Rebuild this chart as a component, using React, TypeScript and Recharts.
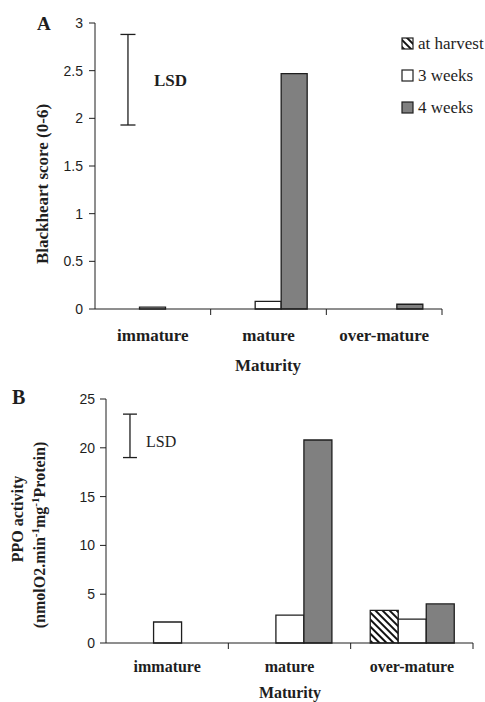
import React from "react";
import {
  BarChart,
  Bar,
  XAxis,
  YAxis,
  ReferenceLine,
  ReferenceDot,
} from "recharts";

// ---- data ----
const CATEGORIES = ["immature", "mature", "over-mature"];
const SLOTS = [0.5, 1.5, 2.5]; // centre of each category on the position axis (0..3)
const POS_TICKS = [0.5, 1, 1.5, 2, 2.5, 3]; // labels at centres, marks at boundaries

// Panel A: Blackheart score (0-6)
const A_HARVEST: (number | null)[] = [null, null, null];
const A_WEEK3: (number | null)[] = [0.02, 0.08, null];
const A_WEEK4: (number | null)[] = [null, 2.47, 0.05];
const A_TICKS = [0, 0.5, 1, 1.5, 2, 2.5, 3];
const A_LSD = [1.93, 2.88]; // low, high

// Panel B: PPO activity
const B_HARVEST: (number | null)[] = [null, null, 3.35];
const B_WEEK3: (number | null)[] = [2.15, 2.85, 2.45];
const B_WEEK4: (number | null)[] = [null, 20.8, 4.0];
const B_TICKS = [0, 5, 10, 15, 20, 25];
const B_LSD = [19.0, 23.45];

const SERIES = [
  { key: "harvest", name: "at harvest" },
  { key: "w3", name: "3 weeks" },
  { key: "w4", name: "4 weeks" },
];

const SERIF = '"Liberation Serif", "Times New Roman", serif';
const SANS = '"Liberation Sans", Arial, sans-serif';
const INK = "#1e1e1e";
const GREY = "#808080";

const dataA = CATEGORIES.map((c, i) => ({
  cat: c,
  slot: SLOTS[i],
  harvest: A_HARVEST[i],
  w3: A_WEEK3[i],
  w4: A_WEEK4[i],
}));
const dataB = CATEGORIES.map((c, i) => ({
  cat: c,
  slot: SLOTS[i],
  harvest: B_HARVEST[i],
  w3: B_WEEK3[i],
  w4: B_WEEK4[i],
}));

const fillFor = (key: string, hatchId: string) =>
  key === "harvest" ? `url(#${hatchId})` : key === "w3" ? "#ffffff" : GREY;

function Hatch({ id }: { id: string }) {
  return (
    <defs>
      <pattern id={id} width={5} height={5} patternUnits="userSpaceOnUse" patternTransform="rotate(-45)">
        <rect width={5} height={5} fill="#fff" />
        <rect x={0} y={0} width={2} height={5} fill="#111" />
      </pattern>
    </defs>
  );
}

// integer positions = category boundary (short mark), half positions = category name
function PosTick(props: any) {
  const { x, y, payload, fontSize, dy } = props;
  const v = Number(payload.value);
  if (Number.isInteger(v)) {
    return <line x1={x} x2={x} y1={y - 6} y2={y} stroke={INK} strokeWidth={1} />;
  }
  return (
    <text x={x} y={y + dy} textAnchor="middle" fontFamily={SERIF} fontWeight="bold" fontSize={fontSize} fill={INK}>
      {CATEGORIES[Math.floor(v)]}
    </text>
  );
}

const st = { stroke: INK, strokeWidth: 1.3 };

function lsdBar(x: number, lo: number, hi: number, cap: number) {
  return [
    <ReferenceLine key="v" xAxisId="pos" segment={[{ x, y: lo }, { x, y: hi }]} {...st} />,
    <ReferenceLine key="t" xAxisId="pos" segment={[{ x: x - cap, y: hi }, { x: x + cap, y: hi }]} {...st} />,
    <ReferenceLine key="b" xAxisId="pos" segment={[{ x: x - cap, y: lo }, { x: x + cap, y: lo }]} {...st} />,
  ];
}

function PanelA() {
  return (
    <BarChart width={485} height={385} data={dataA} margin={{ top: 23, right: 43, bottom: 0, left: 0 }} barCategoryGap="16%" barGap={0}>
      <Hatch id="hatchA" />
      <XAxis dataKey="cat" hide height={0} />
      <XAxis
        xAxisId="pos"
        dataKey="slot"
        type="number"
        domain={[0, 3]}
        allowDataOverflow
        padding={{ left: 0, right: 0 }}
        ticks={POS_TICKS}
        interval={0}
        height={76}
        tickLine={false}
        tickSize={6}
        tickMargin={0}
        axisLine={{ stroke: INK }}
        tick={<PosTick fontSize={17} dy={26} />}
      />
      <YAxis
        width={95}
        domain={[0, 3]}
        ticks={A_TICKS}
        interval={0}
        tickSize={6}
        tickMargin={6}
        axisLine={{ stroke: INK }}
        tickLine={{ stroke: INK }}
        tick={{ fontFamily: SANS, fontSize: 14, fill: INK }}
      />
      {SERIES.map((s) => (
        <Bar key={s.key} dataKey={s.key} name={s.name} fill={fillFor(s.key, "hatchA")} stroke={INK} strokeWidth={1.3} isAnimationActive={false} />
      ))}
      {lsdBar(0.285, A_LSD[0], A_LSD[1], 0.065)}
      <ReferenceDot
        xAxisId="pos"
        x={0.51}
        y={2.4}
        r={0}
        shape={(p: any) => (
          <text x={p.cx} y={p.cy + 6} fontFamily={SERIF} fontWeight="bold" fontSize={17} fill={INK}>
            LSD
          </text>
        )}
      />
      <text x={37} y={30} fontFamily={SERIF} fontWeight="bold" fontSize={19} fill={INK}>A</text>
      <text
        x={48}
        y={184}
        transform="rotate(-90 48 184)"
        textAnchor="middle"
        fontFamily={SERIF}
        fontWeight="bold"
        fontSize={17}
        fill={INK}
      >
        Blackheart score (0-6)
      </text>
      <text x={268} y={371} textAnchor="middle" fontFamily={SERIF} fontWeight="bold" fontSize={17} fill={INK}>
        Maturity
      </text>
      {SERIES.map((s, i) => (
        <g key={s.key}>
          <rect x={402} y={38 + i * 32} width={11} height={11} fill={fillFor(s.key, "hatchA")} stroke={INK} strokeWidth={1.2} />
          <text x={418} y={49 + i * 32} fontFamily={SERIF} fontSize={17} fill={INK}>
            {s.name}
          </text>
        </g>
      ))}
    </BarChart>
  );
}

function PanelB() {
  return (
    <BarChart width={485} height={317} data={dataB} margin={{ top: 14, right: 12, bottom: 0, left: 0 }} barCategoryGap="16%" barGap={0}>
      <Hatch id="hatchB" />
      <XAxis dataKey="cat" hide height={0} />
      <XAxis
        xAxisId="pos"
        dataKey="slot"
        type="number"
        domain={[0, 3]}
        allowDataOverflow
        padding={{ left: 0, right: 0 }}
        ticks={POS_TICKS}
        interval={0}
        height={59}
        tickLine={false}
        tickSize={6}
        tickMargin={0}
        axisLine={{ stroke: INK }}
        tick={<PosTick fontSize={16} dy={23} />}
      />
      <YAxis
        width={106}
        domain={[0, 25]}
        ticks={B_TICKS}
        interval={0}
        tickSize={6}
        tickMargin={5}
        axisLine={{ stroke: INK }}
        tickLine={{ stroke: INK }}
        tick={{ fontFamily: SANS, fontSize: 14, fill: INK }}
      />
      {SERIES.map((s) => (
        <Bar key={s.key} dataKey={s.key} name={s.name} fill={fillFor(s.key, "hatchB")} stroke={INK} strokeWidth={1.3} isAnimationActive={false} />
      ))}
      {lsdBar(0.196, B_LSD[0], B_LSD[1], 0.057)}
      <ReferenceDot
        xAxisId="pos"
        x={0.327}
        y={20.6}
        r={0}
        shape={(p: any) => (
          <text x={p.cx} y={p.cy + 5} fontFamily={SERIF} fontSize={16} fill={INK}>
            LSD
          </text>
        )}
      />
      <text x={12} y={19} fontFamily={SERIF} fontWeight="bold" fontSize={20} fill={INK}>B</text>
      <text
        x={23}
        y={134}
        transform="rotate(-90 23 134)"
        textAnchor="middle"
        fontFamily={SERIF}
        fontWeight="bold"
        fontSize={16}
        fill={INK}
      >
        PPO activity
      </text>
      <text
        x={45}
        y={150}
        transform="rotate(-90 45 150)"
        textAnchor="middle"
        fontFamily={SERIF}
        fontWeight="bold"
        fontSize={16}
        fill={INK}
      >
        (nmolO2.min
        <tspan dy={-6} fontSize={11}>-1</tspan>
        <tspan dy={6}>mg</tspan>
        <tspan dy={-6} fontSize={11}>-1</tspan>
        <tspan dy={6}>Protein)</tspan>
      </text>
      <text x={290} y={313} textAnchor="middle" fontFamily={SERIF} fontWeight="bold" fontSize={16} fill={INK}>
        Maturity
      </text>
    </BarChart>
  );
}

export default function App() {
  return (
    <div style={{ position: "absolute", left: 0, top: 0, width: 485, height: 702, background: "#fff" }}>
      <div style={{ position: "absolute", left: 0, top: 0 }}>
        <PanelA />
      </div>
      <div style={{ position: "absolute", left: 0, top: 385 }}>
        <PanelB />
      </div>
    </div>
  );
}
